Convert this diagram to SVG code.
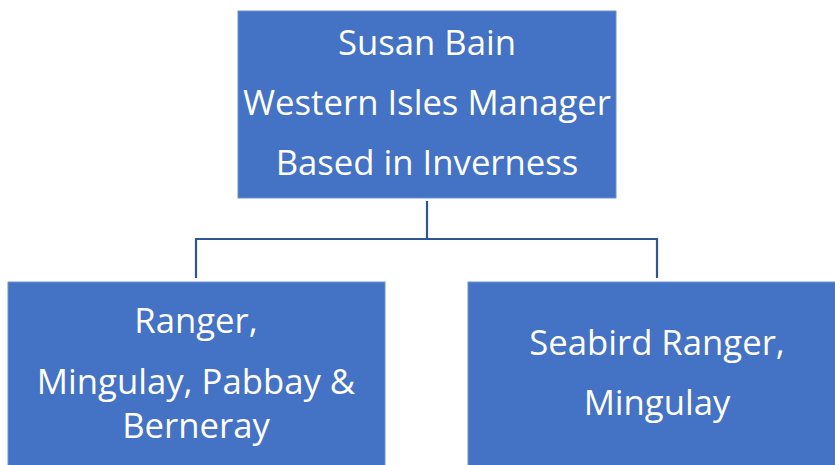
<svg xmlns="http://www.w3.org/2000/svg" width="835" height="465" viewBox="0 0 835 465">
<style>
.box{fill:#4472C4;stroke:#6f8fd0;stroke-width:1}
.t{font-family:"Open Sans","Liberation Sans",Arial,sans-serif;font-size:34.7px;fill:#fff;text-anchor:middle}
.c{fill:none;stroke:#2F5597;stroke-width:2.2}
</style>
<rect width="835" height="465" fill="#fff"/>
<g id="connectors">
<path class="c" d="M427 201V239M196 239H657M196 238V278M657 238V278"/>
</g>
<g id="manager">
<rect class="box" x="238" y="11" width="378" height="187"/>
<text class="t" x="427" y="55">Susan Bain</text>
<text class="t" x="427" y="115">Western Isles Manager</text>
<text class="t" x="427" y="175">Based in Inverness</text>
</g>
<g id="ranger">
<rect class="box" x="8" y="282" width="377" height="190"/>
<text class="t" x="196" y="333">Ranger,</text>
<text class="t" x="196" y="394">Mingulay, Pabbay &amp;</text>
<text class="t" x="196" y="438">Berneray</text>
</g>
<g id="seabird">
<rect class="box" x="468" y="282" width="375" height="190"/>
<text class="t" x="657" y="355">Seabird Ranger,</text>
<text class="t" x="657" y="415">Mingulay</text>
</g>
</svg>
